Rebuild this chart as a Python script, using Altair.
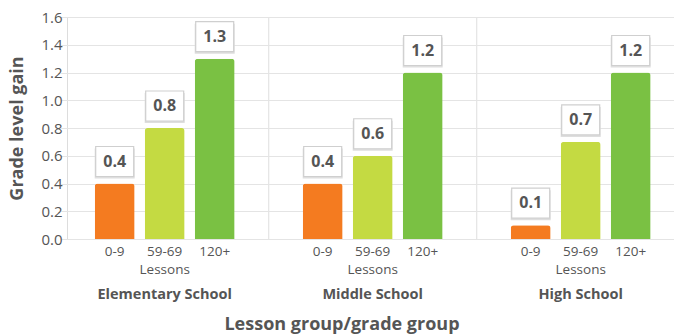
import altair as alt
import pandas as pd

# Grade level gain by lesson band, grouped by school level
schools = ["Elementary School", "Middle School", "High School"]
lessons = ["0-9", "59-69", "120+"]
elementary_gain = [0.4, 0.8, 1.3]
middle_gain = [0.4, 0.6, 1.2]
high_gain = [0.1, 0.7, 1.2]
bar_colors = ["#f47b20", "#c4da42", "#7ac143"]
y_ticks = [0.0, 0.2, 0.4, 0.6, 0.8, 1.0, 1.2, 1.4, 1.6]

rows = []
for school, gains in zip(schools, [elementary_gain, middle_gain, high_gain]):
    for lesson, g in zip(lessons, gains):
        rows.append({"school": school, "lessons": lesson, "gain": g})
df = pd.DataFrame(rows)
school_df = pd.DataFrame({"school": schools})
divider_df = pd.DataFrame({"school": schools[1:]})

W, H = 607, 222
TEXT = "#555555"
GRID = "#e4e4e4"
FONT = "Open Sans"

x_scale = alt.Scale(domain=schools, range=[-6.3, 617.7], paddingInner=0, paddingOuter=0)
xoff_scale = alt.Scale(domain=lessons, paddingInner=0.2, paddingOuter=0.68)
y_scale = alt.Scale(domain=[0, 1.6], nice=False, zero=True)

x_axis = alt.Axis(
    labelFontSize=14.5, labelFontWeight="bold", labelColor=TEXT, labelPadding=48,
    domain=False, ticks=False, grid=False, labelAngle=0, labelFont=FONT,
    title="Lesson group/grade group", titleFontSize=18, titleFontWeight="bold",
    titleColor=TEXT, titleX=274.5, titleY=90, titleBaseline="alphabetic", titleFont=FONT,
)
y_axis = alt.Axis(
    values=y_ticks, format=".1f", labelFontSize=15, labelColor=TEXT, labelPadding=5,
    domain=False, ticks=False, grid=True, gridColor=GRID, gridWidth=1, labelFont=FONT,
    title="Grade level gain", titleFontSize=18, titleFontWeight="bold", titleColor=TEXT,
    titleX=-49.5, titleY=H / 2, titleBaseline="middle", titleFont=FONT,
)

X = alt.X("school:N", scale=x_scale, sort=schools, axis=x_axis)
XO = alt.XOffset("lessons:N", scale=xoff_scale, sort=lessons)
Y = alt.Y("gain:Q", scale=y_scale, axis=y_axis)

dividers = alt.Chart(divider_df).mark_rule(color=GRID, strokeWidth=1.2).encode(
    x=alt.X("school:N", scale=x_scale, sort=schools, axis=x_axis, bandPosition=0),
    y=alt.value(0),
    y2=alt.value(H),
)

bars = alt.Chart(df).mark_bar(cornerRadiusTopLeft=3, cornerRadiusTopRight=3).encode(
    x=X,
    xOffset=XO,
    y=Y,
    color=alt.Color("lessons:N", scale=alt.Scale(domain=lessons, range=bar_colors), legend=None),
)

box_shadow = alt.Chart(df).mark_rect(fill="#dedede", yOffset=-5, y2Offset=-35, width=40).encode(
    x=X, xOffset=XO, y=Y, y2=alt.Y2("gain:Q"),
)
box = alt.Chart(df).mark_rect(
    fill="white", stroke="#cfcfcf", strokeWidth=1.2, yOffset=-7, y2Offset=-37, width=38
).encode(x=X, xOffset=XO, y=Y, y2=alt.Y2("gain:Q"))

value_text = alt.Chart(df).mark_text(
    dy=-22, fontSize=16, fontWeight="bold", color=TEXT, baseline="middle", font=FONT
).encode(x=X, xOffset=XO, y=Y, text=alt.Text("gain:Q", format=".1f"))

lesson_text = alt.Chart(df).mark_text(fontSize=13.5, color=TEXT, baseline="middle", font=FONT).encode(
    x=X, xOffset=XO, y=alt.value(H + 13), text="lessons:N"
)

lessons_word = alt.Chart(school_df).mark_text(fontSize=13.5, color=TEXT, baseline="middle", font=FONT).encode(
    x=X, y=alt.value(H + 31), text=alt.value("Lessons")
)

chart = alt.layer(
    dividers, bars, box_shadow, box, value_text, lesson_text, lessons_word
).properties(
    width=W, height=H,
    autosize=alt.AutoSizeParams(type="none"),
    padding={"left": 67, "top": 17, "right": 0, "bottom": 96},
    background="white",
).configure_view(strokeWidth=0, stroke="transparent").configure(font=FONT)

chart.save("out.html", embed_options={"renderer": "svg", "actions": False})
